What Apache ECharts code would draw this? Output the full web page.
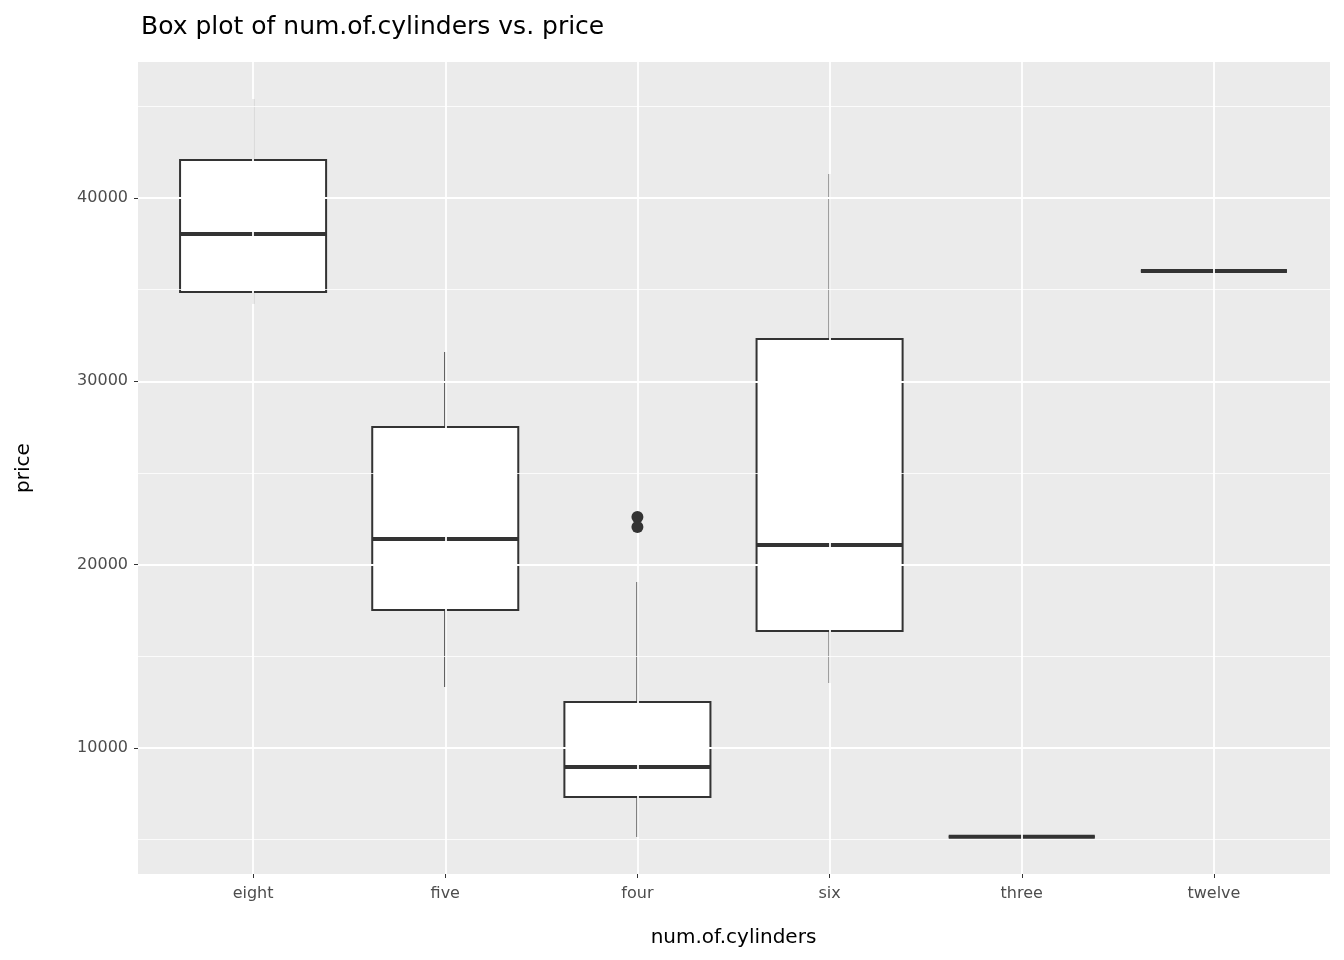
<!DOCTYPE html>
<html><head><meta charset="utf-8">
<script src="https://cdn.jsdelivr.net/npm/echarts@6/dist/echarts.min.js"></script>
<style>html,body{margin:0;padding:0;background:#fff}#c{width:1344px;height:960px}</style>
</head><body><div id="c"></div>
<script>
const categories = ['eight','five','four','six','three','twelve'];
// [low, Q1, median, Q3, high]
const boxValues = [
  [34220, 34870, 38040, 42070, 45400],
  [13320, 17520, 21400, 27510, 31600],
  [5140, 7320, 8960, 12500, 19050],
  [13540, 16380, 21070, 32310, 41310],
  [5150, 5150, 5150, 5150, 5150],
  [36020, 36020, 36020, 36020, 36020]
];
const outliers = [['four', 22600], ['four', 22050]];
const majorTicks = [10000, 20000, 30000, 40000];
const minorTicks = [5000, 15000, 25000, 35000, 45000];
const yMin = 3120, yMax = 47420;

const chart = echarts.init(document.getElementById('c'));
const font = 'DejaVu Sans';
chart.setOption({
  animation: false,
  textStyle: {fontFamily: font},
  title: {text: 'Box plot of num.of.cylinders vs. price', left: 136, top: 10,
    textStyle: {fontFamily: font, fontSize: 25, fontWeight: 'normal', color: '#000'}},
  grid: [
    {left: 138, right: 14, top: 62, bottom: 86, backgroundColor: '#EBEBEB', show: true, borderWidth: 0},
    {left: 157, right: 34, top: 62, bottom: 86}
  ],
  xAxis: [
    {gridIndex: 0, type: 'value', min: 0, max: 1, show: false},
    {gridIndex: 1, type: 'category', data: categories, name: 'num.of.cylinders', nameLocation: 'middle', nameGap: 54,
      nameTextStyle: {fontSize: 20, color: '#000'},
      axisLine: {show: false}, axisTick: {show: true, length: 4, lineStyle: {color: '#333'}, alignWithLabel: true},
      axisLabel: {fontSize: 16, color: '#4D4D4D', margin: 12}, splitLine: {show: false}}
  ],
  yAxis: [
    {gridIndex: 0, type: 'value', min: yMin, max: yMax, name: 'price', nameLocation: 'middle', nameGap: 104,
      nameTextStyle: {fontSize: 20, color: '#000'},
      axisLine: {show: false}, splitLine: {show: false},
      axisTick: {show: true, length: 4, customValues: majorTicks, lineStyle: {color: '#333'}},
      axisLabel: {fontSize: 16, color: '#4D4D4D', customValues: majorTicks, margin: 10, formatter: v => String(v)}},
    {gridIndex: 1, type: 'value', min: yMin, max: yMax, show: false}
  ],
  series: [
    {type: 'scatter', xAxisIndex: 0, yAxisIndex: 0, data: [], silent: true, z: 1,
      markLine: {silent: true, symbol: 'none', label: {show: false}, animation: false,
        data: [
          ...minorTicks.map(v => ({yAxis: v, lineStyle: {color: '#fff', width: 0.8, type: 'solid'}})),
          ...majorTicks.map(v => ({yAxis: v, lineStyle: {color: '#fff', width: 1.8, type: 'solid'}}))
        ]}},
    {type: 'scatter', xAxisIndex: 1, yAxisIndex: 1, data: [], silent: true, z: 1,
      markLine: {silent: true, symbol: 'none', label: {show: false}, animation: false,
        data: categories.map(c => ({xAxis: c, lineStyle: {color: '#fff', width: 1.8, type: 'solid'}}))}},
    {type: 'custom', xAxisIndex: 1, yAxisIndex: 1, z: 3,
      data: boxValues.map((b, i) => [i, ...b]),
      renderItem: function (params, api) {
        const i = api.value(0);
        const lo = api.coord([i, api.value(1)]), q1 = api.coord([i, api.value(2)]),
              md = api.coord([i, api.value(3)]), q3 = api.coord([i, api.value(4)]),
              hi = api.coord([i, api.value(5)]);
        const w = api.size([1, 0])[0] * 0.76;
        const x = lo[0];
        const st = {stroke: '#333', lineWidth: 2};
        return {type: 'group', children: [
          {type: 'line', shape: {x1: x, y1: hi[1], x2: x, y2: q3[1]}, style: st},
          {type: 'line', shape: {x1: x, y1: q1[1], x2: x, y2: lo[1]}, style: st},
          {type: 'rect', shape: {x: x - w / 2, y: q3[1], width: w, height: q1[1] - q3[1]},
            style: {fill: '#fff', stroke: '#333', lineWidth: 2}},
          {type: 'line', shape: {x1: x - w / 2, y1: md[1], x2: x + w / 2, y2: md[1]},
            style: {stroke: '#333', lineWidth: 4}}
        ]};
      }},
    {type: 'scatter', xAxisIndex: 1, yAxisIndex: 1, data: outliers, symbolSize: 12, z: 5,
      itemStyle: {color: '#333', opacity: 1}}
  ]
});
</script></body></html>
